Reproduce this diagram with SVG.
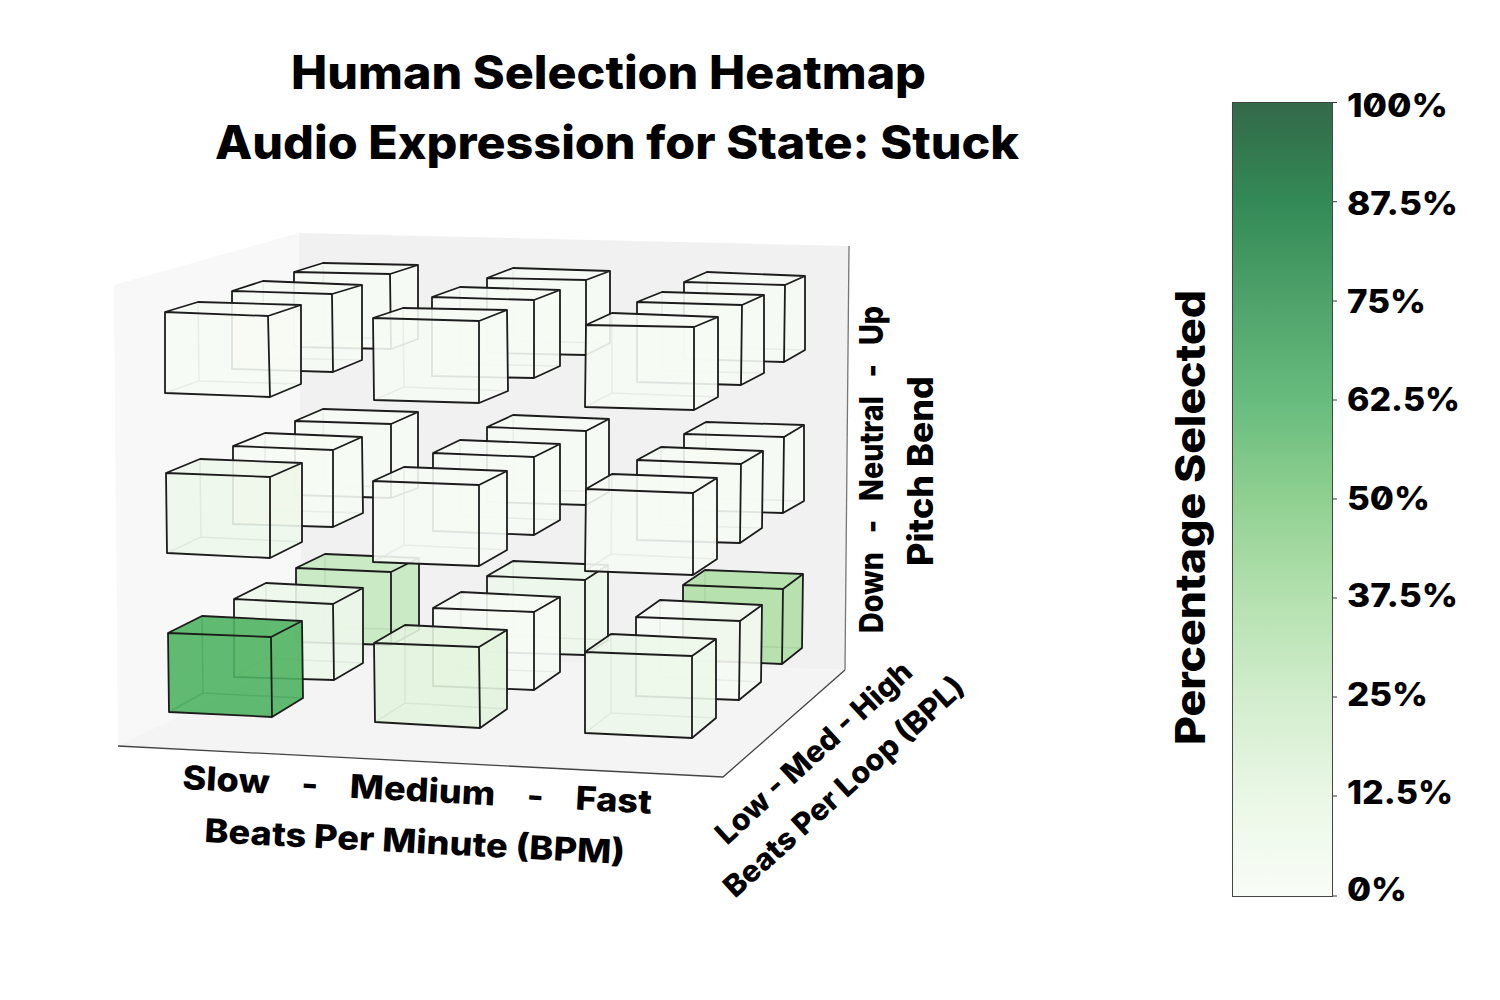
<svg xmlns="http://www.w3.org/2000/svg" width="1500" height="1000" viewBox="0 0 1500 1000">
<style>
text{font-family:Inter,"Liberation Sans",sans-serif;font-weight:800;fill:#000;white-space:pre;font-feature-settings:"zero"}
.title{font-size:46px}
.tick{font-size:32px}
.ax{font-size:33px}
.ax2{font-size:30px}
.h{fill:none;stroke:#000;stroke-width:1.5;opacity:.55}
.e{stroke:#1c1c1c;stroke-width:1.8;stroke-linejoin:round;fill-opacity:.9}
.c0{fill:#f6fbf4}.c1{fill:#edf7ea}.c2{fill:#e3f4de}.c3{fill:#c5e8c0}.c4{fill:#b0dfa6}.c5{fill:#50b262}
</style>
<defs>
<linearGradient id="bar" x1="0" y1="1" x2="0" y2="0">
<stop offset="0" stop-color="#f9fdf7"/><stop offset=".125" stop-color="#eaf7e6"/><stop offset=".25" stop-color="#d2edcd"/><stop offset=".375" stop-color="#b4e1af"/><stop offset=".5" stop-color="#90d091"/><stop offset=".625" stop-color="#67bc7d"/><stop offset=".75" stop-color="#4fa26a"/><stop offset=".875" stop-color="#338a56"/><stop offset="1" stop-color="#336949"/>
</linearGradient>
</defs>
<g id="walls">
<polygon points="114,285 299,233 301,656 118,746" fill="#f8f8f8"/>
<polygon points="299,233 849,246 845,670 301,656" fill="#f1f1f1"/>
<polygon points="118,746 301,656 845,670 723,777" fill="#f4f4f4"/>
<path d="M849,246L845,670" fill="none" stroke="#777" stroke-width="1.3"/>
<path d="M845,670L723,777L118,746" fill="none" stroke="#444" stroke-width="1.3"/>
</g>
<g id="connectors"></g>
<g id="cubes">
<g id="d-s-b"><path class="h" d="M325,627L325,554M325,627L419,630M325,627L296,642"/><path class="e c3" d="M296,568L325,554L419,558L419,630L391,645L296,642ZM296,568L391,572M391,572L391,645M391,572L419,558"/></g>
<g id="d-m-b"><path class="h" d="M514,636L513,561M514,636L608,640M514,636L487,652"/><path class="e c1" d="M487,576L513,561L608,565L608,640L585,655L487,652ZM487,576L585,580M585,580L585,655M585,580L608,565"/></g>
<g id="d-f-b"><path class="h" d="M705,645L705,570M705,645L802,648M705,645L683,660"/><path class="e c4" d="M683,585L705,570L803,574L802,648L782,664L683,660ZM683,585L783,589M783,589L782,664M783,589L803,574"/></g>
<g id="n-s-b"><path class="h" d="M324,485L323,409M324,485L418,488M324,485L295,495"/><path class="e c0" d="M295,421L323,409L418,412L418,488L391,498L295,495ZM295,421L391,424M391,424L391,498M391,424L418,412"/></g>
<g id="n-m-b"><path class="h" d="M514,489L513,415M514,489L609,492M514,489L487,502"/><path class="e c0" d="M487,427L513,415L609,419L609,492L586,505L487,502ZM487,427L586,431M586,431L586,505M586,431L609,419"/></g>
<g id="n-f-b"><path class="h" d="M706,498L706,422M706,498L804,501M706,498L684,510"/><path class="e c0" d="M684,434L706,422L804,425L804,501L783,513L684,510ZM684,434L784,437M784,437L783,513M784,437L804,425"/></g>
<g id="u-s-b"><path class="h" d="M324,337L323,263M324,337L418,339M324,337L294,347"/><path class="e c0" d="M294,272L323,263L418,265L418,339L391,349L294,347ZM294,272L390,274M390,274L391,349M390,274L418,265"/></g>
<g id="u-m-b"><path class="h" d="M514,341L513,268M514,341L610,343M514,341L487,353"/><path class="e c0" d="M487,278L513,268L610,271L610,343L586,355L487,353ZM487,278L586,280M586,280L586,355M586,280L610,271"/></g>
<g id="u-f-b"><path class="h" d="M707,347L707,272M707,347L805,350M707,347L684,359"/><path class="e c0" d="M684,282L707,272L805,276L805,350L784,362L684,359ZM684,282L785,285M785,285L784,362M785,285L805,276"/></g>
<g id="d-s-m"><path class="h" d="M266,658L266,583M266,658L363,663M266,658L234,677"/><path class="e c1" d="M234,599L266,583L363,588L363,663L334,680L234,677ZM234,599L333,604M333,604L334,680M333,604L363,588"/></g>
<g id="d-m-m"><path class="h" d="M461,668L461,592M461,668L560,672M461,668L433,686"/><path class="e c0" d="M433,608L461,592L560,597L560,672L534,690L433,686ZM433,608L534,612M534,612L534,690M534,612L560,597"/></g>
<g id="d-f-m"><path class="h" d="M660,677L660,600M660,677L761,682M660,677L636,696"/><path class="e c0" d="M636,617L660,600L762,605L761,682L739,700L636,696ZM636,617L740,621M740,621L739,700M740,621L762,605"/></g>
<g id="n-s-m"><path class="h" d="M265,510L265,433M265,510L363,513M265,510L233,524"/><path class="e c0" d="M233,446L265,433L362,437L363,513L333,527L233,524ZM233,446L333,450M333,450L333,527M333,450L362,437"/></g>
<g id="n-m-m"><path class="h" d="M460,516L460,440M460,516L560,520M460,516L433,531"/><path class="e c0" d="M433,453L460,440L560,444L560,520L534,535L433,531ZM433,453L534,457M534,457L534,535M534,457L560,444"/></g>
<g id="n-f-m"><path class="h" d="M661,525L661,447M661,525L762,528M661,525L637,540"/><path class="e c0" d="M637,460L661,447L763,451L762,528L740,543L637,540ZM637,460L741,464M741,464L740,543M741,464L763,451"/></g>
<g id="u-s-m"><path class="h" d="M264,358L263,281M264,358L362,360M264,358L232,369"/><path class="e c0" d="M232,291L263,281L362,285L362,360L333,372L232,369ZM232,291L332,294M332,294L333,372M332,294L362,285"/></g>
<g id="u-m-m"><path class="h" d="M460,364L460,287M460,364L560,366M460,364L432,376"/><path class="e c0" d="M432,297L460,287L560,290L560,366L534,378L432,376ZM432,297L534,300M534,300L534,378M534,300L560,290"/></g>
<g id="u-f-m"><path class="h" d="M662,371L662,292M662,371L764,373M662,371L637,382"/><path class="e c0" d="M637,302L662,292L764,295L764,373L741,385L637,382ZM637,302L742,305M742,305L741,385M742,305L764,295"/></g>
<g id="d-s-f"><path class="h" d="M203,693L202,616M203,693L303,698M203,693L169,712"/><path class="e c5" d="M168,633L202,616L302,621L303,698L272,717L169,712ZM168,633L271,637M271,637L272,717M271,637L302,621"/></g>
<g id="d-m-f"><path class="h" d="M405,703L405,625M405,703L507,709M405,703L375,722"/><path class="e c2" d="M374,643L405,625L507,630L507,709L480,728L375,722ZM374,643L479,647M479,647L480,728M479,647L507,630"/></g>
<g id="d-f-f"><path class="h" d="M611,713L611,634M611,713L716,718M611,713L585,733"/><path class="e c1" d="M585,652L611,634L716,639L716,718L692,738L585,733ZM585,652L692,656M692,656L692,738M692,656L716,639"/></g>
<g id="n-s-f"><path class="h" d="M201,537L200,459M201,537L302,542M201,537L167,553"/><path class="e c1" d="M166,473L200,459L302,463L302,542L270,558L167,553ZM166,473L270,477M270,477L270,558M270,477L302,463"/></g>
<g id="n-m-f"><path class="h" d="M404,545L404,467M404,545L507,550M404,545L373,562"/><path class="e c0" d="M373,481L404,467L507,471L507,550L479,566L373,562ZM373,481L479,485M479,485L479,566M479,485L507,471"/></g>
<g id="n-f-f"><path class="h" d="M611,554L612,474M611,554L717,559M611,554L585,571"/><path class="e c0" d="M586,489L612,474L717,478L717,559L693,575L585,571ZM586,489L693,493M693,493L693,575M693,493L717,478"/></g>
<g id="u-s-f"><path class="h" d="M199,381L198,302M199,381L301,384M199,381L165,393"/><path class="e c0" d="M165,312L198,302L301,305L301,384L270,397L165,393ZM165,312L268,316M268,316L270,397M268,316L301,305"/></g>
<g id="u-m-f"><path class="h" d="M404,387L403,308M404,387L508,391M404,387L374,400"/><path class="e c0" d="M373,318L403,308L507,310L508,391L479,403L374,400ZM373,318L479,321M479,321L479,403M479,321L507,310"/></g>
<g id="u-f-f"><path class="h" d="M612,393L612,313M612,393L718,397M612,393L585,407"/><path class="e c0" d="M586,325L612,313L718,317L718,397L694,410L585,407ZM586,325L694,327M694,327L694,410M694,327L718,317"/></g>
</g>
<g id="title">
<text class="title" x="291" y="89" textLength="635" lengthAdjust="spacingAndGlyphs">Human Selection Heatmap</text>
<text class="title" x="215" y="159" textLength="804" lengthAdjust="spacingAndGlyphs">Audio Expression for State: Stuck</text>
</g>
<g id="axis-labels">
<text class="ax" transform="translate(182,789) rotate(3)" textLength="470" lengthAdjust="spacingAndGlyphs">Slow    -    Medium    -    Fast</text>
<text class="ax" transform="translate(204,842) rotate(3)" textLength="421" lengthAdjust="spacingAndGlyphs">Beats Per Minute (BPM)</text>
<text class="ax2" transform="translate(727,846) rotate(-42.5)" textLength="254" lengthAdjust="spacingAndGlyphs">Low - Med - High</text>
<text class="ax2" transform="translate(735,899) rotate(-42)" textLength="312" lengthAdjust="spacingAndGlyphs">Beats Per Loop (BPL)</text>
<text class="ax" transform="translate(883,633) rotate(-90)" textLength="327" lengthAdjust="spacingAndGlyphs">Down   -   Neutral   -   Up</text>
<text transform="translate(933,566) rotate(-90)" font-size="35" textLength="190" lengthAdjust="spacingAndGlyphs">Pitch Bend</text>
</g>
<g id="colorbar">
<rect x="1232.5" y="102.5" width="100" height="794" fill="url(#bar)" stroke="#444" stroke-width="1"/>
<path d="M1333,102.5h4M1333,201.7h4M1333,301h4M1333,400h4M1333,499h4M1333,598h4M1333,697h4M1333,796h4M1333,896h4" stroke="#333" stroke-width="1" fill="none"/>
<text class="tick" x="1347" y="117" textLength="101" lengthAdjust="spacingAndGlyphs">100%</text>
<text class="tick" x="1347" y="215" textLength="111" lengthAdjust="spacingAndGlyphs">87.5%</text>
<text class="tick" x="1347" y="313" textLength="79" lengthAdjust="spacingAndGlyphs">75%</text>
<text class="tick" x="1347" y="411" textLength="113" lengthAdjust="spacingAndGlyphs">62.5%</text>
<text class="tick" x="1347" y="510" textLength="83" lengthAdjust="spacingAndGlyphs">50%</text>
<text class="tick" x="1347" y="607" textLength="111" lengthAdjust="spacingAndGlyphs">37.5%</text>
<text class="tick" x="1347" y="706" textLength="81" lengthAdjust="spacingAndGlyphs">25%</text>
<text class="tick" x="1347" y="804" textLength="106" lengthAdjust="spacingAndGlyphs">12.5%</text>
<text class="tick" x="1347" y="901" textLength="60" lengthAdjust="spacingAndGlyphs">0%</text>
<text transform="translate(1205,745) rotate(-90)" font-size="41" textLength="455" lengthAdjust="spacingAndGlyphs">Percentage Selected</text>
</g>
</svg>
